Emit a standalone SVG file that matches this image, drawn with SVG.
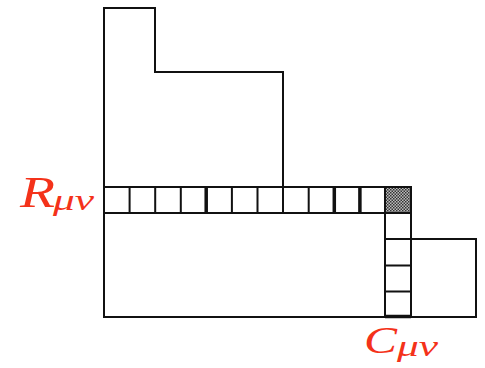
<svg xmlns="http://www.w3.org/2000/svg" width="485" height="368" viewBox="0 0 485 368">
<style>
.s{fill:none;stroke:#111;stroke-width:2}
.t{stroke-width:3.5}
.lab{fill:#f4321a;font-family:"Liberation Serif",serif;font-style:italic}
.sub{font-size:30px}
</style>
<defs>
<pattern id="dots" width="3" height="3" patternUnits="userSpaceOnUse">
<rect width="3" height="3" fill="#bbb"/>
<rect width="1.5" height="1.5" fill="#333"/>
<rect x="1.5" y="1.5" width="1.5" height="1.5" fill="#333"/>
</pattern>
</defs>
<g id="upper">
<path class="s" d="M104,213 V8 H155 V72 H283 V187"/>
</g>
<g id="lower">
<path class="s" d="M104,213 V317 H476 V239 H411"/>
</g>
<g id="row">
<rect x="385" y="187" width="26" height="26" fill="url(#dots)"/>
<path class="s" d="M104,187 H411 V317 M104,213 H411 M385,213 V317 M385,239 H411 M385,265.5 H411 M385,291.5 H411"/>
<path class="s" d="M129.6,187 V213 M155.2,187 V213 M180.8,187 V213 M231.9,187 V213 M257.5,187 V213 M283,187 V213 M308.7,187 V213 M385,187 V213"/>
<path class="s t" d="M206.2,187 V213 M334.3,187 V213 M359.9,187 V213 M385,316.5 H411"/>
</g>
<g id="labels">
<text class="lab" x="20" y="207" font-size="45" textLength="35" lengthAdjust="spacingAndGlyphs">R</text>
<text class="lab sub" x="53" y="210" textLength="41" lengthAdjust="spacingAndGlyphs">μν</text>
<text class="lab" x="364" y="353" font-size="38" textLength="33" lengthAdjust="spacingAndGlyphs">C</text>
<text class="lab sub" x="397" y="356" textLength="41" lengthAdjust="spacingAndGlyphs">μν</text>
</g>
</svg>
